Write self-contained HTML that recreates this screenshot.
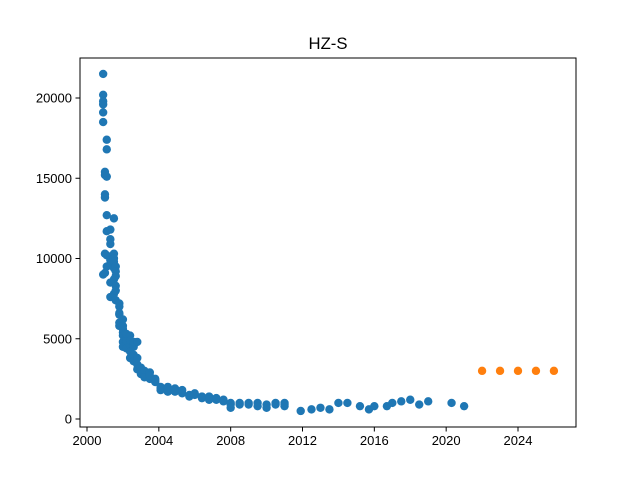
<!DOCTYPE html>
<html><head><meta charset="utf-8"><style>
body{margin:0;background:#fff;}
svg text{font-family:"Liberation Sans","DejaVu Sans",sans-serif;}
</style></head><body>
<svg id="chart" width="640" height="480" xmlns="http://www.w3.org/2000/svg">
<rect width="640" height="480" fill="#fff"/>
<text x="328" y="49" text-anchor="middle" font-size="16.7">HZ-S</text>
<g id="marks"></g>
<g id="axes"></g>
</svg>
<script>
const histYears = [
2000.9,2000.9,2000.9,2000.9,2000.9,2000.9,2000.9,
2001.0,2001.0,2001.0,2001.0,2001.0,2001.0,
2001.1,2001.1,2001.1,2001.1,2001.1,2001.1,2001.1,
2001.3,2001.3,2001.3,2001.3,2001.3,2001.3,2001.3,
2001.5,2001.5,2001.5,2001.5,2001.5,2001.5,2001.5,
2001.6,2001.6,2001.6,2001.6,2001.6,2001.6,
2001.8,2001.8,2001.8,2001.8,2001.8,2001.8,
2002.0,2002.0,2002.0,2002.0,2002.0,2002.0,2002.0,
2002.2,2002.2,2002.2,2002.2,2002.2,
2002.4,2002.4,2002.4,2002.4,2002.4,
2002.6,2002.6,2002.6,2002.6,
2002.8,2002.8,2002.8,2002.8,
2003.0,2003.0,2003.0,
2003.2,2003.2,2003.2,
2003.5,2003.5,2003.5,
2003.8,2003.8,2003.8,
2004.1,2004.1,2004.1,
2004.5,2004.5,2004.5,
2004.9,2004.9,
2005.3,2005.3,
2005.7,2005.7,
2006.0,2006.0,
2006.4,2006.4,
2006.8,2006.8,2006.8,
2007.2,2007.2,
2007.6,2007.6,
2008.0,2008.0,2008.0,
2008.5,2008.5,
2009.0,2009.0,
2009.5,2009.5,
2010.0,2010.0,
2010.5,2010.5,
2011.0,2011.0,2011.0,
2011.9,2012.5,2013.0,2013.5,2014.0,2014.5,2015.2,2015.7,2016.0,2016.7,2017.0,2017.5,2018.0,2018.5,2019.0,2020.3,2021.0];
const histValues = [
21500,20200,19800,19600,19100,18500,9000,
15400,15200,14000,13800,9100,10300,
17400,16800,15100,12700,11700,10200,9500,
11800,11200,10900,9700,8500,7600,9900,
12500,10300,10000,9800,9400,8700,7800,
9500,9200,8900,8300,8000,7400,
7200,7000,6600,6500,6000,5800,
6200,5600,5400,5200,4800,4500,5800,
5000,4700,4400,4900,5300,
5200,4600,4200,3800,4900,
4500,4000,3600,4800,
4800,3400,3100,3800,
3200,3000,2800,
3000,2700,2600,
2900,2500,2700,
2500,2300,2400,
2000,1800,1900,
2000,1800,1700,
1900,1700,
1600,1800,
1500,1400,
1600,1500,
1400,1300,
1400,1300,1200,
1300,1200,
1200,1100,
1000,900,700,
900,1000,
1000,900,
1000,800,
900,700,
900,1000,
1000,800,900,
500,600,700,600,1000,1000,800,600,800,800,1000,1100,1200,900,1100,1000,800];
const predYears = [2022,2023,2024,2025,2026];
const predValues = [3000,3000,3000,3000,3000];
const xTicks = [2000,2004,2008,2012,2016,2020,2024];
const yTicks = [0,5000,10000,15000,20000];

const L=80,R=576,T=58,B=427;
function xs(v){return 87+(v-2000)*(518-87)/24;}
function ys(v){return 419-v*(419-98)/20000;}
const NS="http://www.w3.org/2000/svg";
const marks=document.getElementById('marks');
const axes=document.getElementById('axes');
function mk(tag,attrs,parent){const e=document.createElementNS(NS,tag);for(const k in attrs)e.setAttribute(k,attrs[k]);parent.appendChild(e);return e;}
histYears.forEach((yr,i)=>{
  const c=mk('circle',{cx:xs(yr),cy:ys(histValues[i]),r:4.2,fill:'#1f77b4'},marks);
  
  
});
predYears.forEach((yr,i)=>{
  const c=mk('circle',{cx:xs(yr),cy:ys(predValues[i]),r:4.2,fill:'#ff7f0e'},marks);
  
  
});
const frame=mk('rect',{x:L,y:T,width:R-L,height:B-T,fill:'none',stroke:'#000','stroke-width':1},axes);


xTicks.forEach(t=>{
  const x=xs(t);
  mk('line',{x1:x,x2:x,y1:B,y2:B+4.5,stroke:'#000'},axes);
  const tx=mk('text',{x:x,y:B+18,'text-anchor':'middle','font-size':'13'},axes);
  tx.textContent=t;
  
  
});
yTicks.forEach(t=>{
  const y=ys(t);
  mk('line',{x1:L,x2:L-4.5,y1:y,y2:y,stroke:'#000'},axes);
  const tx=mk('text',{x:L-8,y:y+4.5,'text-anchor':'end','font-size':'13'},axes);
  tx.textContent=t;
  
  
});
</script>
</body></html>
